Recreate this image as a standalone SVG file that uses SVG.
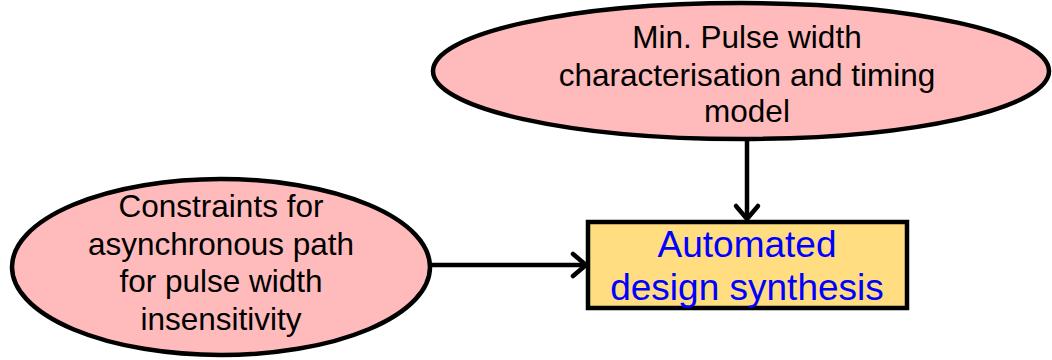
<svg xmlns="http://www.w3.org/2000/svg" width="1052" height="360" viewBox="0 0 1052 360">
  <style>
    .bubble { fill: #FFBBBB; stroke: #000; stroke-width: 4.5; }
    .box { fill: #FFDD80; stroke: #000; stroke-width: 4.5; }
    .label { font-family: "Liberation Sans", Arial, sans-serif; font-size: 31.5px; fill: #000; text-anchor: middle; }
    .title { font-family: "Liberation Sans", Arial, sans-serif; font-size: 37px; fill: #0000FF; text-anchor: middle; }
    .link { stroke: #000; stroke-width: 4.5; fill: none; }
  </style>
  <defs>
    <marker id="arrow" viewBox="0 0 24 24" refX="22" refY="12" markerWidth="24" markerHeight="24" markerUnits="userSpaceOnUse" orient="auto" overflow="visible">
      <path d="M9,1 L22,12 L9,23" fill="none" stroke="#000" stroke-width="4.5" stroke-linecap="round" stroke-linejoin="round"/>
    </marker>
  </defs>

  <g id="connectors">
    <line class="link" x1="747" y1="140" x2="747" y2="219" marker-end="url(#arrow)"/>
    <line class="link" x1="430" y1="265" x2="586" y2="265" marker-end="url(#arrow)"/>
  </g>

  <g id="node-pulse-width">
    <ellipse class="bubble" cx="741" cy="71" rx="308" ry="68"/>
    <text class="label" x="747" y="48">Min. Pulse width</text>
    <text class="label" x="747" y="86">characterisation and timing</text>
    <text class="label" x="747" y="122">model</text>
  </g>

  <g id="node-constraints">
    <ellipse class="bubble" cx="221" cy="267" rx="209" ry="88"/>
    <text class="label" x="221" y="217">Constraints for</text>
    <text class="label" x="221" y="255">asynchronous path</text>
    <text class="label" x="221" y="292">for pulse width</text>
    <text class="label" x="221" y="330">insensitivity</text>
  </g>

  <g id="node-synthesis">
    <rect class="box" x="588" y="222" width="319" height="86"/>
    <text class="title" x="747" y="257">Automated</text>
    <text class="title" x="747" y="300">design synthesis</text>
  </g>
</svg>
